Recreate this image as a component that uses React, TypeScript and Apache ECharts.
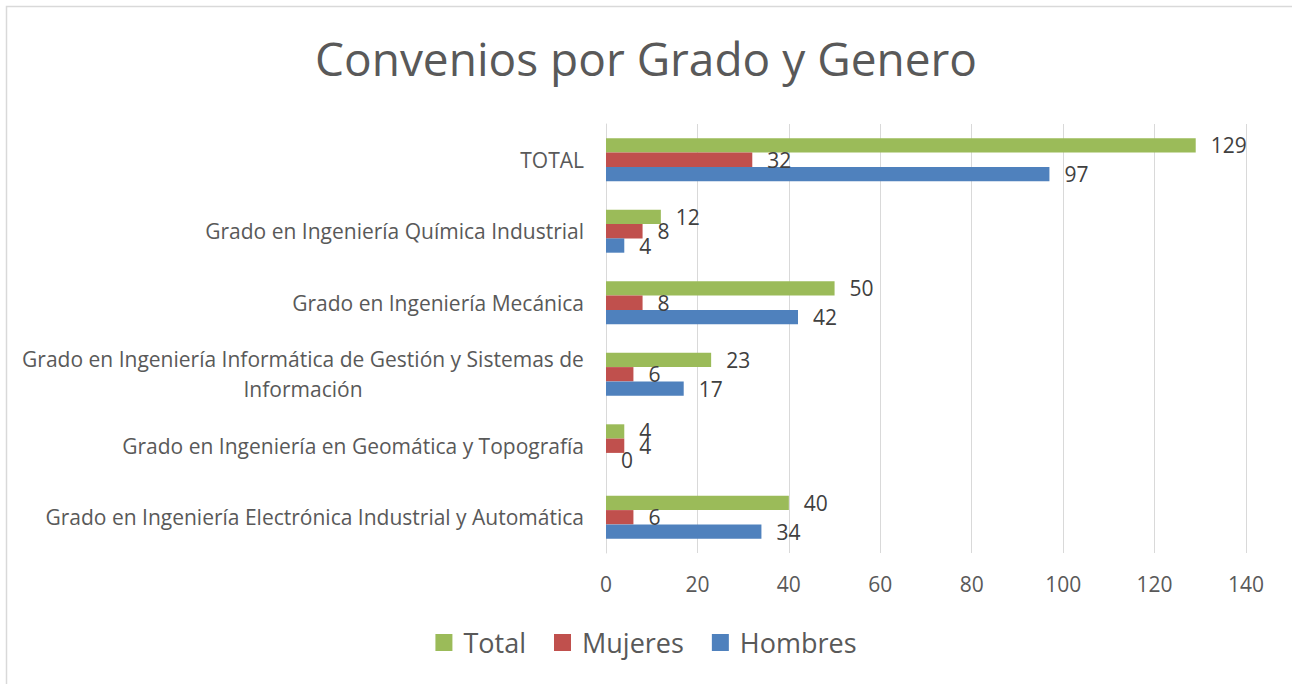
import React, { useEffect, useRef } from "react";
import * as echarts from "echarts";

const categories = [
  "Grado en Ingeniería Electrónica Industrial y Automática",
  "Grado en Ingeniería en Geomática y Topografía",
  "Grado en Ingeniería Informática de Gestión y Sistemas de\nInformación",
  "Grado en Ingeniería Mecánica",
  "Grado en Ingeniería Química Industrial",
  "TOTAL",
];
const hombres = [34, 0, 17, 42, 4, 97];
const mujeres = [6, 4, 6, 8, 8, 32];
const total = [40, 4, 23, 50, 12, 129];
const xTicks = [0, 20, 40, 60, 80, 100, 120, 140];

const FONT = "Open Sans";
const LABEL_SIZE = 21;

function measure(text: string, size: number) {
  const c = document.createElement("canvas");
  const ctx = c.getContext("2d")!;
  ctx.font = `${size}px "${FONT}"`;
  return ctx.measureText(text).width;
}

export default function App() {
  const ref = useRef<HTMLDivElement>(null);
  useEffect(() => {
    const chart = echarts.init(ref.current!, null, { renderer: "svg" });
    const label = {
      show: true,
      position: "right" as const,
      distance: 15,
      color: "#404040",
      fontSize: LABEL_SIZE,
      fontFamily: FONT,
    };
    const barBase = { type: "bar" as const, barGap: "0%", barCategoryGap: "40%" };
    const longLine = categories[2].split("\n")[0];
    chart.setOption({
      animation: false,
      backgroundColor: "#ffffff",
      title: {
        text: "Convenios por Grado y Genero",
        left: "center",
        top: 30,
        textStyle: { color: "#595959", fontSize: 46, fontWeight: "normal", fontFamily: FONT },
      },
      legend: {
        data: ["Total", "Mujeres", "Hombres"],
        bottom: 23,
        left: "center",
        itemWidth: 17,
        itemHeight: 17,
        itemGap: 28,
        icon: "rect",
        textStyle: { color: "#595959", fontSize: 27, fontFamily: FONT, padding: [0, 0, 0, 6] },
      },
      grid: { left: 606, right: 46, top: 124, bottom: 131, containLabel: false },
      xAxis: {
        type: "value",
        min: xTicks[0],
        max: xTicks[xTicks.length - 1],
        interval: 20,
        axisLine: { show: false },
        axisTick: { show: false },
        splitLine: { show: true, lineStyle: { color: "#d9d9d9", width: 1 } },
        axisLabel: { color: "#595959", fontSize: LABEL_SIZE, fontFamily: FONT, margin: 20 },
      },
      yAxis: {
        type: "category",
        data: categories,
        axisLine: { show: true, lineStyle: { color: "#d9d9d9", width: 1 } },
        axisTick: { show: false },
        axisLabel: {
          color: "#595959",
          fontSize: LABEL_SIZE,
          fontFamily: FONT,
          margin: 22,
          lineHeight: 30,
          formatter: (v: string) => {
            if (v.indexOf("\n") >= 0) {
              return v
                .split("\n")
                .map((l) => `{c|${l}}`)
                .join("\n");
            }
            return v;
          },
          rich: {
            c: {
              width: Math.ceil(measure(longLine, LABEL_SIZE)),
              align: "center",
              color: "#595959",
              fontSize: LABEL_SIZE,
              fontFamily: FONT,
              lineHeight: 30,
            },
          },
        },
      },
      series: [
        { ...barBase, name: "Total", data: total, itemStyle: { color: "#9bbb59" }, label },
        { ...barBase, name: "Mujeres", data: mujeres, itemStyle: { color: "#c0504d" }, label },
        { ...barBase, name: "Hombres", data: hombres, itemStyle: { color: "#4f81bd" }, label },
      ],
      graphic: [
        {
          type: "rect",
          shape: { x: 6.5, y: 6.5, width: 1300, height: 700 },
          style: { fill: "none", stroke: "#d9d9d9", lineWidth: 1.5 },
          silent: true,
        },
      ],
    });
    return () => chart.dispose();
  }, []);
  return (
    <div
      ref={ref}
      style={{ position: "fixed", left: 0, top: 0, width: 1292, height: 684 }}
    />
  );
}
